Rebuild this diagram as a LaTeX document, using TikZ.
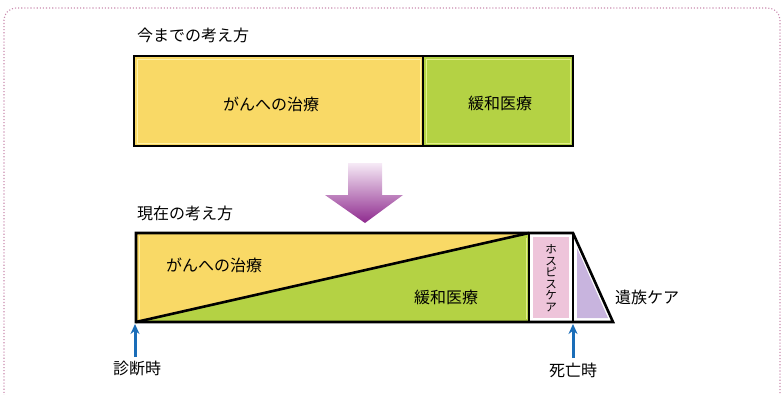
\documentclass[tikz,border=0pt]{standalone}
\usepackage{fontspec}
\setmainfont{Noto Sans CJK JP}
\usetikzlibrary{arrows.meta}
\definecolor{yel}{HTML}{F9D966}
\definecolor{yelline}{HTML}{FFF2A8}
\definecolor{grn}{HTML}{B4D244}
\definecolor{grnline}{HTML}{E2F08A}
\definecolor{pnk}{HTML}{EEC4DA}
\definecolor{lav}{HTML}{C8B4DE}
\definecolor{frame}{HTML}{C98AAE}
\definecolor{blu}{HTML}{1A6DB8}
\definecolor{purp}{HTML}{8E2A8E}
\definecolor{purplight}{HTML}{F6EAF6}
\tikzset{
  lbl/.style={font=\fontsize{16}{18}\selectfont, inner sep=0pt, text=black},
  title/.style={font=\fontsize{16}{18}\selectfont, inner sep=0pt, anchor=west},
  blk/.style={draw=black, line width=2.6pt},
  uparrow/.style={-{Stealth[length=10pt,width=9pt]}, draw=blu, line width=3pt},
}
\begin{document}
\begin{tikzpicture}[x=1pt,y=-1pt]
\useasboundingbox (0,0) rectangle (782,394);
% frame
\draw[frame, dotted, line width=1.1pt, rounded corners=12pt] (4,396) -- (4,8) -- (780,8) -- (780,396);

% titles
\node[title] (t1) at (137,35) {今までの考え方};
\node[title] (t2) at (137,213) {現在の考え方};

% top row
\coordinate (a1) at (134,56);
\coordinate (a2) at (423,56);
\coordinate (a3) at (573,56);
\coordinate (b1) at (134,146);
\coordinate (b2) at (423,146);
\coordinate (b3) at (573,146);
\fill[yel] (a1) rectangle (b2);
\fill[grn] (a2) rectangle (b3);
\draw[yelline, line width=1pt] (137,59) rectangle (420,143);
\draw[grnline, line width=1pt] (426,59) rectangle (570,143);
\draw[blk] (a1) rectangle (b3);
\draw[blk] (a2) -- (b2);
\node[lbl] (c1) at (271,104) {がんへの治療};
\node[lbl] (c2) at (500,103) {緩和医療};

% big arrow
\shade[top color=purplight, bottom color=purp, draw=none]
  (348,163) -- (382,163) -- (382,195) -- (403,195) -- (365,223) -- (325,195) -- (348,195) -- cycle;

% bottom row
\coordinate (d1) at (136,233);
\coordinate (d2) at (529,233);
\coordinate (d3) at (573,233);
\coordinate (d4) at (613,322);
\coordinate (e1) at (136,322);
\coordinate (e2) at (529,322);
\coordinate (e3) at (573,322);
\fill[yel] (d1) rectangle (e2);
\fill[grn] (e1) -- (d2) -- (e2) -- cycle;
\draw[yelline, line width=1pt] (139,236) -- (139,319);
\draw[grnline, line width=1pt] (526,238) -- (526,319);
\fill[pnk] (533,237) rectangle (569,318);
\fill[lav] (577,248) -- (608,318) -- (577,318) -- cycle;
\draw[blk, line join=miter] (e1) -- (d2);
\draw[blk, line join=miter] (d1) -- (d3) -- (d4) -- (e1) -- cycle;
\draw[blk] (d2) -- (e2);
\draw[blk] (d3) -- (e3);

\node[lbl] (g1) at (214,265) {がんへの治療};
\node[lbl] (g2) at (446,297) {緩和医療};
\node[font=\fontsize{11.5}{11.5}\selectfont, align=center, inner sep=0pt] (h1) at (551,278) {ホ\\ス\\ピ\\ス\\ケ\\ア};
\node[lbl, anchor=west] (h2) at (615,297) {遺族ケア};

% time labels
\node[lbl] (s1) at (137,368) {診断時};
\node[lbl] (s2) at (573,370) {死亡時};
\coordinate (p1) at (135,324);
\coordinate (p2) at (573,324);
\draw[uparrow] (135,357) -- (p1);
\draw[uparrow] (573,358) -- (p2);
\end{tikzpicture}
\end{document}
